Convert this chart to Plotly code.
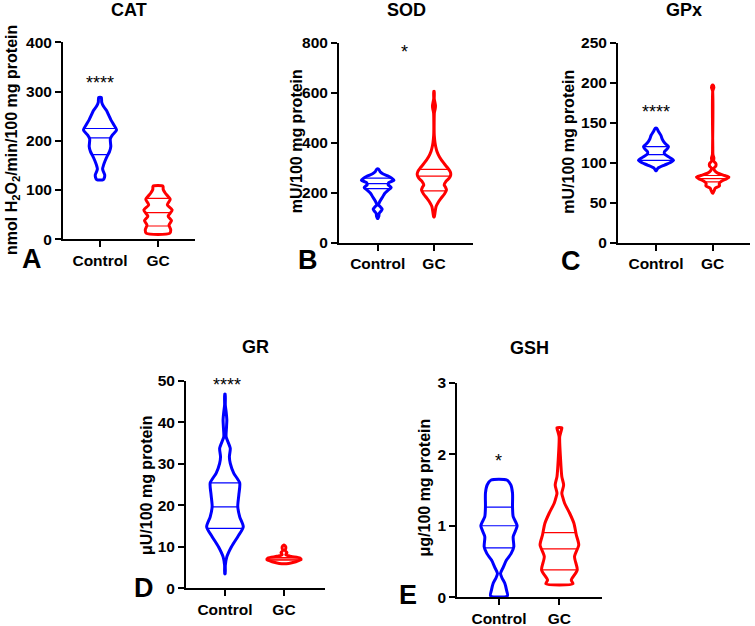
import numpy as np
import plotly.graph_objects as go

W, H = 755, 626
FONT = "Liberation Sans, Arial, sans-serif"
BLUE = "#0000FF"
RED = "#FF0000"

groups = ["Control", "GC"]

panel_titles = ["CAT", "SOD", "GPx", "GR", "GSH"]
panel_letters = ["A", "B", "C", "D", "E"]
y_titles = ["nmol H<sub>2</sub>O<sub>2</sub>/min/100 mg protein",
            "mU/100 mg protein", "mU/100 mg protein",
            "μU/100 mg protein", "μg/100 mg protein"]
y_max = [400, 800, 250, 50, 3]
y_dtick = [100, 200, 50, 10, 1]
sig_labels = ["****", "*", "****", "****", "*"]
sig_x = [0, 0.47, 0, 0.03, 0]
sig_y = [317, 762, 164, 49, 1.91]

# ---- violin profiles: value levels and half-widths (category units) ----
cat_ctrl_y = [121, 126, 131, 137, 143, 151, 160, 168, 178, 188, 196, 204, 212, 222, 232, 242, 252, 262, 270, 278, 288]
cat_ctrl_w = [0.055, 0.078, 0.081, 0.06, 0.045, 0.062, 0.09, 0.12, 0.164, 0.186, 0.181, 0.178, 0.215, 0.286, 0.24, 0.19, 0.15, 0.11, 0.06, 0.03, 0.022]
cat_ctrl_q = [172, 206, 225]
cat_gc_y = [12, 19, 29, 38, 47, 59.5, 70, 81, 93, 101, 108]
cat_gc_w = [0.2, 0.22, 0.19, 0.233, 0.175, 0.245, 0.16, 0.21, 0.13, 0.09, 0.085]
cat_gc_q = [27, 54, 83]

sod_ctrl_y = [97, 105, 117, 127, 134, 142, 151, 162, 171, 184, 197, 210, 221, 232, 240, 250, 258, 267, 276, 284, 295]
sod_ctrl_w = [0.005, 0.02, 0.027, 0.062, 0.08, 0.053, 0.015, 0.032, 0.053, 0.09, 0.124, 0.186, 0.24, 0.186, 0.195, 0.29, 0.25, 0.178, 0.09, 0.044, 0.014]
sod_ctrl_q = [216, 236, 258]
sod_gc_y = [103, 120, 144, 160, 177, 195, 211, 222, 231, 245, 258, 272, 284, 300, 317, 343, 365, 383, 400, 430, 480, 520, 535, 548, 560, 575, 605]
sod_gc_w = [0.005, 0.018, 0.036, 0.071, 0.124, 0.186, 0.222, 0.204, 0.181, 0.213, 0.27, 0.298, 0.288, 0.24, 0.178, 0.098, 0.053, 0.032, 0.018, 0.005, 0.003, 0.007, 0.021, 0.027, 0.018, 0.005, 0.004]
sod_gc_q = [207, 266, 293]

gpx_ctrl_y = [90, 93, 97, 100, 103, 107, 111, 114, 117, 120, 123, 126, 130, 134, 139, 143]
gpx_ctrl_w = [0.005, 0.032, 0.15, 0.247, 0.309, 0.23, 0.15, 0.15, 0.194, 0.22, 0.176, 0.138, 0.106, 0.088, 0.044, 0.014]
gpx_ctrl_q = [103, 110, 120]
gpx_gc_y = [62, 65, 68, 71, 74, 77, 80, 82, 84, 87, 90, 93, 96, 99, 102, 106, 110, 120, 190, 194, 197]
gpx_gc_w = [0.005, 0.026, 0.044, 0.12, 0.115, 0.16, 0.247, 0.286, 0.21, 0.088, 0.035, 0.021, 0.056, 0.056, 0.018, 0.021, 0.005, 0.002, 0.002, 0.021, 0.005]
gpx_gc_q = [76, 80, 84]

gr_ctrl_y = [3.5, 5.5, 7.5, 10, 12.5, 14.8, 17.2, 19.7, 22.5, 25.4, 27.7, 30.1, 31.7, 33.7, 36.5, 38.5, 40.5, 42.5, 44.1, 46.8]
gr_ctrl_w = [0.004, 0.006, 0.03, 0.11, 0.22, 0.31, 0.25, 0.217, 0.235, 0.25, 0.15, 0.09, 0.075, 0.09, 0.02, 0.025, 0.032, 0.02, 0.006, 0.004]
gr_ctrl_q = [14.45, 19.6, 25.4]
gr_gc_y = [6.0, 6.4, 6.9, 7.3, 7.7, 8.1, 8.6, 9.1, 9.6, 10.0, 10.4]
gr_gc_w = [0.08, 0.2, 0.29, 0.27, 0.12, 0.03, 0.05, 0.02, 0.03, 0.03, 0.005]
gr_gc_q = [6.8, 7.05, 7.4]

gsh_ctrl_y = [0.02, 0.1, 0.196, 0.27, 0.335, 0.42, 0.52, 0.61, 0.708, 0.848, 1.0, 1.127, 1.267, 1.455, 1.57, 1.64]
gsh_ctrl_w = [0.14, 0.125, 0.096, 0.05, 0.025, 0.07, 0.124, 0.2, 0.245, 0.235, 0.30, 0.235, 0.224, 0.224, 0.196, 0.13]
gsh_ctrl_q = [0.69, 1.0, 1.26]
gsh_gc_y = [0.19, 0.242, 0.382, 0.568, 0.731, 0.871, 1.035, 1.175, 1.315, 1.4, 1.455, 1.57, 1.687, 1.92, 2.246, 2.33, 2.37]
gsh_gc_w = [0.224, 0.196, 0.295, 0.25, 0.32, 0.28, 0.24, 0.17, 0.086, 0.055, 0.04, 0.07, 0.04, 0.02, 0.005, 0.03, 0.04]
gsh_gc_q = [0.382, 0.676, 0.904]

violins = [
    [(cat_ctrl_y, cat_ctrl_w, cat_ctrl_q), (cat_gc_y, cat_gc_w, cat_gc_q)],
    [(sod_ctrl_y, sod_ctrl_w, sod_ctrl_q), (sod_gc_y, sod_gc_w, sod_gc_q)],
    [(gpx_ctrl_y, gpx_ctrl_w, gpx_ctrl_q), (gpx_gc_y, gpx_gc_w, gpx_gc_q)],
    [(gr_ctrl_y, gr_ctrl_w, gr_ctrl_q), (gr_gc_y, gr_gc_w, gr_gc_q)],
    [(gsh_ctrl_y, gsh_ctrl_w, gsh_ctrl_q), (gsh_gc_y, gsh_gc_w, gsh_gc_q)],
]
colors = [BLUE, RED]

# ---- layout geometry (pixels) ----
# [x_left, x_right, y_bottom, y_top]
boxes = [(63, 195, 239.3, 42.3), (339, 473, 242.7, 42.7), (618, 750, 242.7, 42.7),
         (186, 325, 588.3, 380.7), (457.3, 601.7, 597.3, 382.7)]
xranges = [(-0.638, 1.638), (-0.687, 1.693), (-0.67, 1.658), (-0.66, 1.695), (-0.69, 1.70)]
title_pos = [(129, 10), (406, 10.5), (684, 10.5), (255.5, 347), (529.5, 348)]
ylab_pos = [(12, 140), (296.5, 141.7), (569, 141.7), (146, 485), (423.5, 488)]
letter_pos = [(31.7, 259), (308, 260), (571, 261), (144, 588), (408, 595)]


def fx(px):
    return px / W


def fy(py):
    return 1 - py / H


fig = go.Figure()
annotations = []

for i in range(5):
    ax = "" if i == 0 else str(i + 1)
    xa, ya = "x" + ax, "y" + ax
    for g in range(2):
        yv, wv, qv = violins[i][g]
        yv = np.array(yv, float)
        wv = np.array(wv, float)
        xs = np.concatenate([g + wv, (g - wv)[::-1], [g + wv[0]]])
        ys = np.concatenate([yv, yv[::-1], [yv[0]]])
        fig.add_trace(go.Scatter(x=xs, y=ys, mode="lines", xaxis=xa, yaxis=ya,
                                 line=dict(color=colors[g], width=3, shape="spline", smoothing=0.7),
                                 fill="toself", fillcolor="white", hoverinfo="skip", showlegend=False))
        for q in qv:
            hw = float(np.interp(q, yv, wv))
            fig.add_trace(go.Scatter(x=[g - hw, g + hw], y=[q, q], mode="lines", xaxis=xa, yaxis=ya,
                                     line=dict(color=colors[g], width=1.2),
                                     hoverinfo="skip", showlegend=False))
    x0, x1, yb, yt = boxes[i]
    axis_common = dict(showline=True, linecolor="black", linewidth=2, ticks="outside",
                       tickcolor="black", tickwidth=2, ticklen=6, showgrid=False, zeroline=False,
                       automargin=False,
                       tickfont=dict(family=FONT, size=15.5, color="black", weight="bold"))
    fig.update_layout(**{
        ("xaxis" + ax): dict(domain=[fx(x0), fx(x1)], range=list(xranges[i]), anchor=ya,
                             tickmode="array", tickvals=[0, 1], ticktext=groups, **axis_common),
        ("yaxis" + ax): dict(domain=[fy(yb), fy(yt)], range=[0, y_max[i]], anchor=xa,
                             tickmode="linear", tick0=0, dtick=y_dtick[i], **axis_common),
    })
    annotations.append(dict(text=panel_titles[i], x=fx(title_pos[i][0]), y=fy(title_pos[i][1]),
                            xref="paper", yref="paper", showarrow=False, xanchor="center", yanchor="middle",
                            font=dict(family=FONT, size=18, color="black", weight="bold")))
    annotations.append(dict(text=y_titles[i], x=fx(ylab_pos[i][0]), y=fy(ylab_pos[i][1]),
                            xref="paper", yref="paper", showarrow=False, textangle=-90,
                            xanchor="center", yanchor="middle",
                            font=dict(family=FONT, size=16, color="black", weight="bold")))
    annotations.append(dict(text=panel_letters[i], x=fx(letter_pos[i][0]), y=fy(letter_pos[i][1]),
                            xref="paper", yref="paper", showarrow=False, xanchor="center", yanchor="middle",
                            font=dict(family=FONT, size=27, color="black", weight="bold")))
    annotations.append(dict(text=sig_labels[i], x=sig_x[i], y=sig_y[i], xref=xa, yref=ya,
                            showarrow=False, xanchor="center", yanchor="middle",
                            font=dict(family=FONT, size=18, color="black")))

fig.update_layout(width=W, height=H, margin=dict(l=0, r=0, t=0, b=0, autoexpand=False),
                  paper_bgcolor="white", plot_bgcolor="white", annotations=annotations,
                  showlegend=False)

fig.write_html("out.html", config={"displayModeBar": False},
               post_script="document.body.style.margin='0';document.body.style.padding='0';")
